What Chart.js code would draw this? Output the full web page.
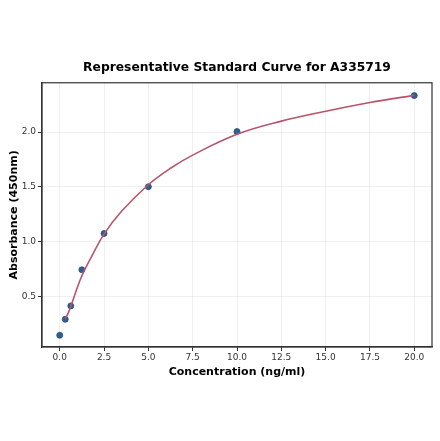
<!DOCTYPE html>
<html>
<head>
<meta charset="utf-8">
<script src="https://cdn.jsdelivr.net/npm/chart.js@4"></script>
<style>
  html, body { margin: 0; padding: 0; background: #fff; }
  #wrap { width: 440px; height: 441px; }
</style>
</head>
<body>
<div id="wrap"><canvas id="myChart"></canvas></div>
<script>
// standard points
var conc = [0, 0.3125, 0.625, 1.25, 2.5, 5, 10, 20];
var absorb = [0.147, 0.293, 0.415, 0.744, 1.075, 1.502, 2.005, 2.333];

// fitted curve
var curveX = [0.31, 0.45, 0.625, 0.9, 1.25, 1.75, 2.5, 3.5, 5, 6.25, 7.5, 10, 12.5, 15, 17.5, 20];
var curveY = [0.30, 0.34, 0.41, 0.54, 0.69, 0.85, 1.07, 1.28, 1.52, 1.67, 1.79, 1.98, 2.10, 2.19, 2.27, 2.335];

var xTicks = [0, 2.5, 5, 7.5, 10, 12.5, 15, 17.5, 20];
var yTicks = [0.5, 1.0, 1.5, 2.0];

Chart.defaults.font.family = 'DejaVu Sans';
Chart.defaults.color = '#333';

var frame = {
  id: 'frame',
  afterDatasetsDraw: function (chart) {
    var a = chart.chartArea, c = chart.ctx;
    c.save();
    c.strokeStyle = '#333';
    c.lineWidth = 1.2;
    c.strokeRect(a.left, a.top, a.right - a.left, a.bottom - a.top);
    c.restore();
  }
};

var ctx = document.getElementById('myChart');

new Chart(ctx, {
  type: 'scatter',
  data: {
    datasets: [{
      type: 'line',
      label: 'fit',
      data: curveX.map(function (x, i) { return { x: x, y: curveY[i] }; }),
      borderColor: '#b8546b',
      borderWidth: 1.6,
      pointRadius: 0,
      tension: 0.4,
      fill: false,
      order: 0
    }, {
      label: 'standards',
      data: conc.map(function (x, i) { return { x: x, y: absorb[i] }; }),
      backgroundColor: '#2d5f8f',
      borderColor: '#274f78',
      borderWidth: 0.8,
      pointRadius: 3,
      order: 1
    }]
  },
  options: {
    responsive: true,
    maintainAspectRatio: false,
    animation: false,
    layout: { padding: { top: 60, bottom: 58, left: 6, right: 8 } },
    plugins: {
      legend: { display: false },
      tooltip: { enabled: false },
      title: {
        display: true,
        text: 'Representative Standard Curve for A335719',
        fullSize: false,
        color: '#000',
        font: { size: 12.3, weight: 'bold' },
        padding: { top: 0, bottom: 8 }
      }
    },
    scales: {
      x: {
        type: 'linear',
        min: -1,
        max: 21,
        afterFit: function (s) { s.height = 36; },
        afterBuildTicks: function (s) { s.ticks = xTicks.map(function (v) { return { value: v }; }); },
        ticks: {
          includeBounds: false,
          padding: 1,
          font: { size: 9 },
          callback: function (v) { return v.toFixed(1); }
        },
        grid: { color: 'rgba(0,0,0,0.06)', tickColor: '#333', tickLength: 4 },
        border: { color: '#333', width: 1.2 },
        title: {
          display: true,
          text: 'Concentration (ng/ml)',
          color: '#000',
          font: { size: 11, weight: 'bold' },
          padding: { top: 2, bottom: 4 }
        }
      },
      y: {
        type: 'linear',
        min: 0.04,
        max: 2.45,
        afterFit: function (s) { s.width = 36; },
        afterBuildTicks: function (s) { s.ticks = yTicks.map(function (v) { return { value: v }; }); },
        ticks: {
          padding: 2,
          font: { size: 9 },
          callback: function (v) { return v.toFixed(1); }
        },
        grid: { color: 'rgba(0,0,0,0.06)', tickColor: '#333', tickLength: 4 },
        border: { color: '#333', width: 1.2 },
        title: {
          display: true,
          text: 'Absorbance (450nm)',
          color: '#000',
          font: { size: 11, weight: 'bold' },
          padding: { top: 2, bottom: 2 }
        }
      }
    }
  },
  plugins: [frame]
});
</script>
</body>
</html>
